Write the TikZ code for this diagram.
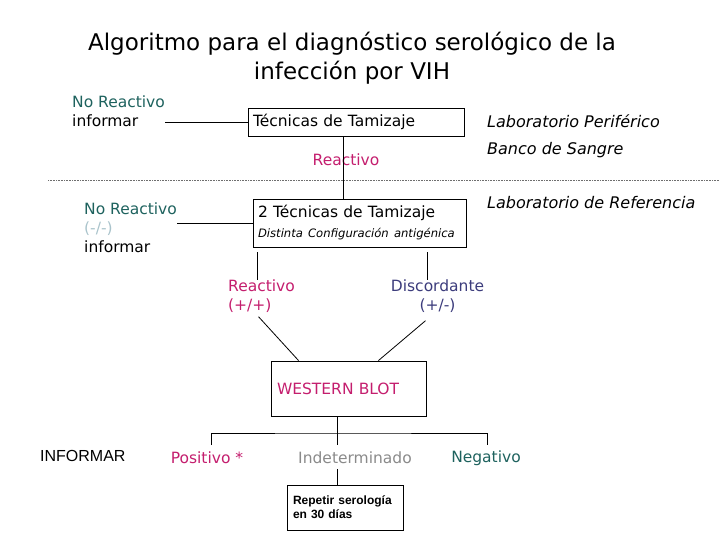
\documentclass[tikz,border=0pt]{standalone}
\usepackage{fontspec}
\setmainfont{DejaVu Sans}
\newfontfamily\narrowfont{Liberation Sans}
\usepackage{tikz}
\usetikzlibrary{calc,positioning}
\definecolor{VihTeal}{HTML}{1E625E}
\definecolor{VihMagenta}{HTML}{C41E6E}
\definecolor{VihNavy}{HTML}{3C3C7C}
\definecolor{VihPale}{HTML}{A9C3CB}
\definecolor{VihGrey}{HTML}{8A8A8A}
\definecolor{VihDots}{HTML}{6E6E6E}
\tikzset{
  link/.style={draw=black,line width=0.8pt},
  divider/.style={draw=VihDots,line width=0.8pt,dash pattern=on 0.8pt off 0.8pt},
  box/.style={draw=black,line width=0.9pt,inner xsep=5pt,inner ysep=3pt,
    align=left,font=\fontsize{15.5}{19}\selectfont},
  txt/.style={inner sep=0pt,align=left,font=\fontsize{15.5}{18.5}\selectfont},
  site/.style={inner sep=0pt,anchor=west,font=\fontsize{16}{19}\selectfont\itshape}
}

\begin{document}
\begin{tikzpicture}[x=1pt,y=-1pt]
  \useasboundingbox (0,0) rectangle (720,540);
  % title
  \node[align=center,font=\fontsize{23}{29}\selectfont] (title) at (352,58)
    {Algoritmo para el diagnóstico serológico de la\\infección por VIH};
  % peripheral level
  \node[box,text width=206pt,minimum height=28pt] (tamiz) at (356,122) {Técnicas de Tamizaje};
  \node[txt,anchor=west] (noreac1) at (72,111) {\textcolor{VihTeal}{No Reactivo}\\informar};
  \node[txt,text=VihMagenta] (reac1) at (346,160) {Reactivo};
  \node[site] (periferico) at (487,121) {Laboratorio Periférico};
  \node[site] (banco) at (487,150) {Banco de Sangre};
  \draw[link] (tamiz.west) -- (tamiz.west -| noreac1.east);
  \draw[divider] (48,180) -- (720,180);
  % reference level
  \node[box,text width=203pt,minimum height=48pt] (tamiz2) at (359.5,223)
    {2 Técnicas de Tamizaje\\[1pt]\mbox{\fontsize{11.6}{14}\selectfont\itshape Distinta Configuración antigénica}};
  \node[site] (referencia) at (487,203) {Laboratorio de Referencia};
  \node[txt,anchor=north west,font=\fontsize{15.5}{19}\selectfont] (noreac2) at (84,203)
    {\textcolor{VihTeal}{No Reactivo}\\\textcolor{VihPale}{(-/-)}\\informar};
  \draw[link] (tamiz.south -| 343,0) -- (tamiz2.north -| 343,0);
  \draw[link] (tamiz2.west) -- (tamiz2.west -| noreac2.east);
  \node[txt,anchor=north west,text=VihMagenta] (reac2) at (228,280) {Reactivo\\(+/+)};
  \node[txt,anchor=north,align=center,text=VihNavy] (discord) at (437.5,280) {Discordante\\(+/-)};
  \coordinate (legL) at ($(tamiz2.south west)+(5,5)$);
  \coordinate (legR) at ($(tamiz2.south east)+(-39,5)$);
  \draw[link] (legL) -- (legL |- reac2.north);
  \draw[link] (legR) -- (legR |- discord.north);
  % confirmation
  \node[box,inner xsep=6pt,text width=143pt,minimum height=55pt,text=VihMagenta] (wb) at (348.5,388.5)
    {WESTERN BLOT\\[3pt]};
  \draw[link] ($(reac2.south)+(-3,4)$) -- ($(wb.north west)+(28,0)$);
  \draw[link] ($(discord.south)+(-12,8)$) -- ($(wb.north east)+(-48,0)$);
  \coordinate (split) at (337,433);
  \coordinate (dropL) at (211,445);
  \coordinate (dropR) at (487,445);
  \draw[link] (wb.south -| split) -- (split);
  \draw[link] (dropL) |- (split) -| (dropR);
  \draw[link] (split) -- (split |- dropL);
  % results
  \node[txt,anchor=west,font=\narrowfont\fontsize{16}{19}\selectfont] (informar) at (40,456) {INFORMAR};
  \node[txt,text=VihMagenta] (positivo) at (207,458) {Positivo *};
  \node[txt,text=VihGrey] (indet) at (355,458) {Indeterminado};
  \node[txt,text=VihTeal] (negativo) at (486,458) {Negativo};
  \node[box,inner xsep=6pt,text width=104pt,minimum height=45pt,
    font=\narrowfont\bfseries\fontsize{12}{14}\selectfont] (repite) at (345,507.5)
    {Repetir serología\\en 30 días\\[4pt]};
  \draw[link] ($(indet.south -| split)+(0,5)$) -- (repite.north -| split);
\end{tikzpicture}
\end{document}
